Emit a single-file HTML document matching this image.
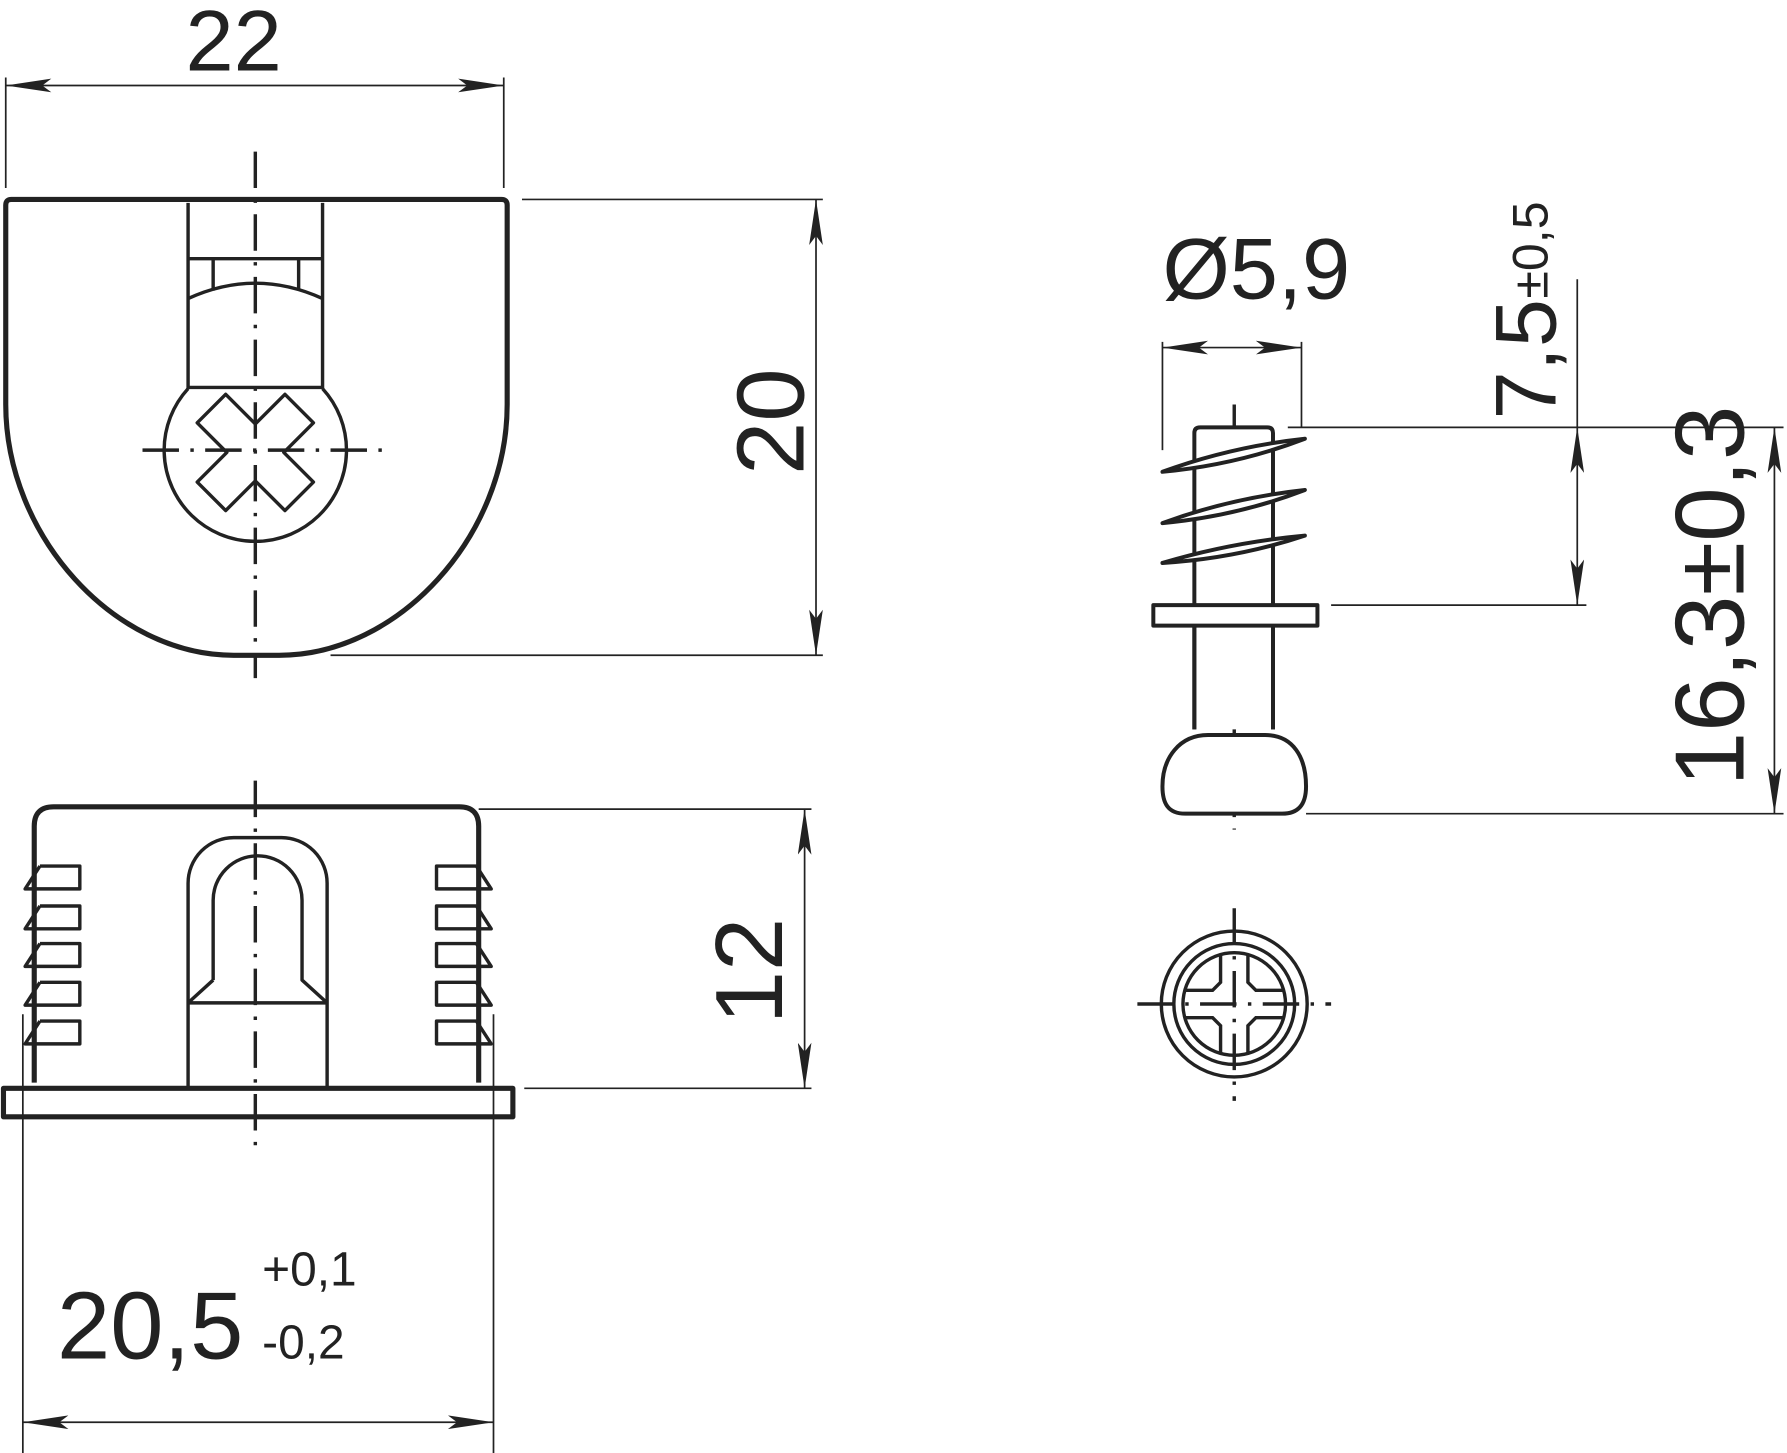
<!DOCTYPE html>
<html><head><meta charset="utf-8"><style>html,body{margin:0;padding:0;background:#fff}svg{display:block}</style></head>
<body>
<svg width="1787" height="1453" viewBox="0 0 1568 1275" xmlns="http://www.w3.org/2000/svg" font-family="Liberation Sans, sans-serif" fill="none" stroke="#222">
<defs>
<marker id="a" viewBox="0 0 40 12" refX="40" refY="6" markerWidth="40" markerHeight="12" markerUnits="userSpaceOnUse" orient="auto-start-reverse"><path d="M0,0 L40,6 L0,12 L8,6 Z" fill="#222" stroke="none"/></marker>
</defs>
<g stroke-width="1.5">
<line x1="5" y1="68" x2="5" y2="165"/><line x1="442" y1="68" x2="442" y2="165"/>
<line x1="5" y1="75" x2="442" y2="75" marker-start="url(#a)" marker-end="url(#a)"/>
<line x1="458" y1="175" x2="722" y2="175"/><line x1="290" y1="575" x2="722" y2="575"/>
<line x1="716" y1="175" x2="716" y2="575" marker-start="url(#a)" marker-end="url(#a)"/>
<line x1="420" y1="710" x2="712" y2="710"/><line x1="460" y1="955" x2="712" y2="955"/>
<line x1="706" y1="710" x2="706" y2="955" marker-start="url(#a)" marker-end="url(#a)"/>
<line x1="20" y1="890" x2="20" y2="1275"/><line x1="433" y1="890" x2="433" y2="1275"/>
<line x1="20" y1="1248" x2="433" y2="1248" marker-start="url(#a)" marker-end="url(#a)"/>
<line x1="1020" y1="300" x2="1020" y2="395"/><line x1="1142" y1="300" x2="1142" y2="375"/>
<line x1="1020" y1="305" x2="1142" y2="305" marker-start="url(#a)" marker-end="url(#a)"/>
<line x1="1130" y1="375" x2="1565" y2="375"/><line x1="1168" y1="531" x2="1392" y2="531"/>
<line x1="1384" y1="245" x2="1384" y2="375"/>
<line x1="1384" y1="375" x2="1384" y2="531" marker-start="url(#a)" marker-end="url(#a)"/>
<line x1="1146" y1="714" x2="1565" y2="714"/>
<line x1="1557" y1="375" x2="1557" y2="714" marker-start="url(#a)" marker-end="url(#a)"/>
</g>
<g stroke-width="3" stroke-dasharray="32,10,3,10">
<line x1="224" y1="133" x2="224" y2="595"/>
<line x1="125" y1="395" x2="337" y2="395"/>
<line x1="224" y1="685" x2="224" y2="1010"/>
<line x1="1083" y1="355" x2="1083" y2="728"/>
<line x1="1083" y1="797" x2="1083" y2="966"/>
<line x1="998" y1="881" x2="1168" y2="881"/>
</g>
<g stroke-width="4.5" stroke-linejoin="round">
<path d="M10,175 L440,175 Q445,175 445,180 L445,355 C445,470 350,575 245,575 L205,575 C100,575 5,470 5,355 L5,180 Q5,175 10,175 Z"/>
</g>
<g stroke-width="3" stroke-linejoin="round">
<path d="M165,178 L165,341 M283,178 L283,341 M165,340 L283,340"/>
<path d="M165,227 L283,227 M187,227 L187,255 M262,227 L262,255"/>
<path d="M165,262 Q224,235 283,262"/>
<path d="M165,341 A80,80 0 1 0 283,341"/>
<path d="M224,372 L250,346 L275,371 L249,397 L275,423 L250,448 L224,422 L198,448 L173,423 L199,397 L173,371 L198,346 Z"/>
</g>
<g stroke-width="4.5" stroke-linejoin="round">
<path d="M30,950 L30,725 Q30,708 47,708 L403,708 Q420,708 420,725 L420,950"/>
<rect x="3" y="955" width="447" height="25"/>
</g>
<g stroke-width="3" stroke-linejoin="round">
<path d="M165,955 L165,775 A40,40 0 0 1 205,735 L247,735 A40,40 0 0 1 287,775 L287,955"/>
<path d="M187,860 L187,790 A37,37 0 0 1 265,790 L265,860 L287,880 M187,860 L165,880 M165,880 L287,880"/>
<g id="t">
<path d="M35,760 L70,760 L70,780 L35,780 L22,780 L35,760"/>
<path d="M35,795 L70,795 L70,815 L35,815 L22,815 L35,795"/>
<path d="M35,828 L70,828 L70,848 L35,848 L22,848 L35,828"/>
<path d="M35,862 L70,862 L70,882 L35,882 L22,882 L35,862"/>
<path d="M35,896 L70,896 L70,916 L35,916 L22,916 L35,896"/>
</g>
<use href="#t" transform="translate(453,0) scale(-1,1)"/>
</g>
<g stroke-width="3.5" stroke-linejoin="round" fill="#fff">
<path d="M1048,640 L1048,380 Q1048,375 1053,375 L1112,375 Q1117,375 1117,380 L1117,640"/>
<path d="M1020,414 Q1080,392 1145,385 Q1085,408 1020,414 Z"/>
<path d="M1020,459 Q1080,437 1145,430 Q1085,453 1020,459 Z"/>
<path d="M1020,494 Q1080,476 1145,470 Q1085,490 1020,494 Z"/>
<rect x="1012" y="531" width="144" height="18"/>
<path d="M1048,549 L1048,640 M1117,549 L1117,640"/>
<path d="M1060,645 L1110,645 C1135,645 1146,665 1146,690 C1146,705 1140,714 1125,714 L1040,714 C1025,714 1020,705 1020,690 C1020,665 1035,645 1060,645 Z"/>
</g>
<g stroke-width="3">
<circle cx="1083" cy="881" r="64"/>
<circle cx="1083" cy="881" r="53"/>
<circle cx="1083" cy="881" r="45"/>
<path d="M1071,837 L1071,862 L1064,869 L1039,869 M1095,837 L1095,862 L1102,869 L1127,869 M1071,925 L1071,900 L1064,893 L1039,893 M1095,925 L1095,900 L1102,893 L1127,893"/>
</g>
<g fill="#222" stroke="none">
<text x="205" y="62" font-size="76" text-anchor="middle">22</text>
<text transform="translate(705,370) rotate(-90)" font-size="84" text-anchor="middle">20</text>
<text transform="translate(686,852) rotate(-90)" font-size="84" text-anchor="middle">12</text>
<text x="50" y="1192" font-size="84">20,5</text>
<text x="230" y="1128" font-size="42">+0,1</text>
<text x="230" y="1192" font-size="42">-0,2</text>
<text x="1020" y="262" font-size="76">Ø5,9</text>
<text transform="translate(1365,368) rotate(-90)" font-size="76">7,5</text>
<text transform="translate(1358,262) rotate(-90)" font-size="44">±0,5</text>
<text transform="translate(1530,690) rotate(-90)" font-size="86">16,3±0,3</text>
</g>
</svg>
</body></html>
